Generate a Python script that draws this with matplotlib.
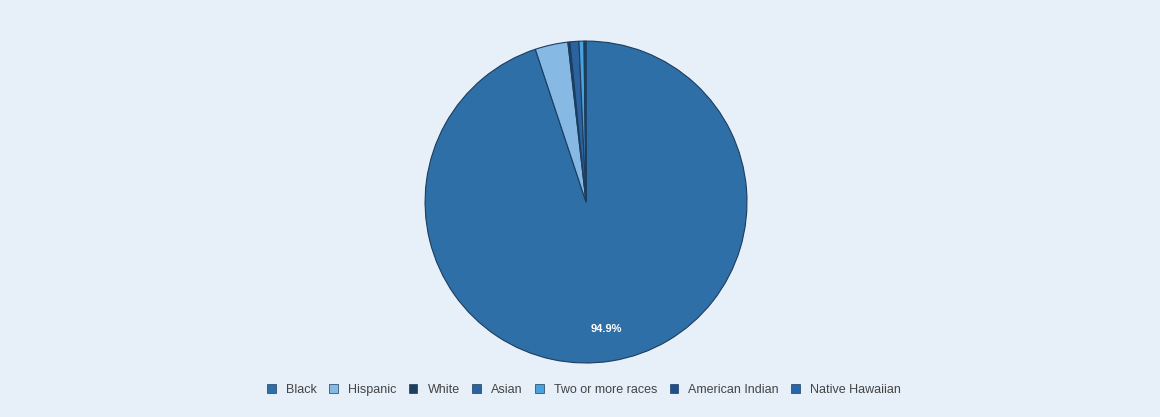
import numpy as np
import matplotlib.pyplot as plt
from matplotlib.patches import Patch

# ========= Data =========
groups = ["Black", "Hispanic", "White", "Asian", "Two or more races",
          "American Indian", "Native Hawaiian"]
shares = [94.9, 3.3, 0.2, 0.9, 0.5, 0.1, 0.1]
colors = ["#2f6fa8", "#86b9e3", "#1f3f60", "#2c62a0", "#4aa2dc", "#214f8a", "#2766a8"]

plt.rcParams['font.family'] = ['Liberation Sans Narrow', 'Liberation Sans', 'DejaVu Sans']

fig = plt.figure(figsize=(11.6, 4.17), dpi=100)
fig.patch.set_facecolor("#e7eff9")

# pie axes, square, centred on the chart
ax = fig.add_axes([0.3664, 0.1295, 0.2776, 0.772])
ax.set_facecolor("none")

def label_big(pct):
    return f"{pct:.1f}%" if pct > 5 else ""

wedges, texts, autotexts = ax.pie(
    shares, colors=colors, startangle=90, counterclock=False,
    autopct=label_big, pctdistance=0.8,
    wedgeprops=dict(edgecolor="#1c3d5e", linewidth=0.8),
    textprops=dict(color="white", fontsize=8, fontweight="bold"),
)
ax.set_xlim(-1.0, 1.0)
ax.set_ylim(-1.0, 1.0)
ax.set_aspect("equal")
ax.axis("off")

# ========= Legend =========
handles = [Patch(facecolor=c, edgecolor="#1c3d5e", linewidth=0.5) for c in colors]
leg = fig.legend(handles, groups, loc="center", bbox_to_anchor=(0.5035, 0.065),
                 ncol=len(groups), frameon=False, fontsize=9,
                 handlelength=0.7, handleheight=0.7, handletextpad=0.8,
                 columnspacing=1.0)
for t in leg.get_texts():
    t.set_color("#444444")

fig.savefig("out.png", dpi=100, facecolor=fig.get_facecolor())
